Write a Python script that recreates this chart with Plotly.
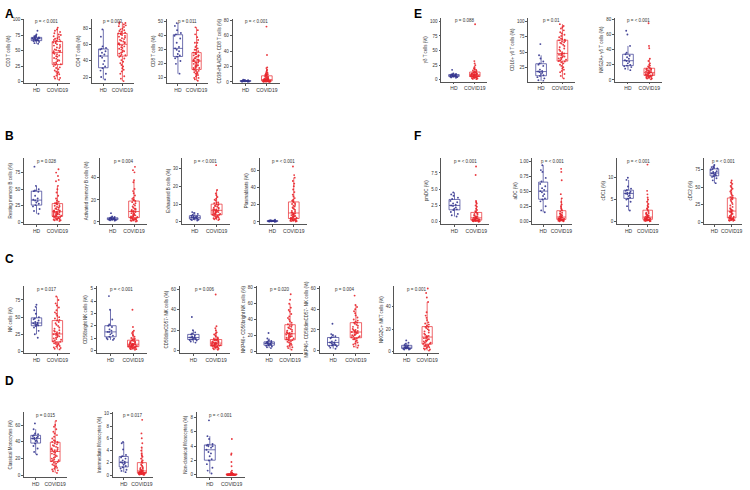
import plotly.graph_objects as go

groups = ["HD", "COVID19"]

# ---------------- data ----------------
a1_hd = [82, 76, 74, 73, 72, 71, 71, 70, 70, 69, 69, 68, 68, 67, 67, 66, 66, 65, 64, 62, 61]
a1_cov = [87, 84, 82, 80, 78, 76, 75, 73, 72, 70, 69, 68, 67, 66, 65, 64, 63, 62, 60, 59, 58, 56, 55, 54, 52, 51, 50, 50, 49, 48, 46, 45, 44, 42, 41, 40, 38, 37, 35, 34, 33, 31, 30, 29, 28, 27, 25, 23, 22, 20, 18, 16, 15, 13, 12, 10, 8, 6, 5, 3]
a2_hd = [79, 70, 58, 56, 55, 54, 52, 50, 48, 46, 44, 40, 36, 33, 31, 28, 24, 20, 17]
a2_cov = [88, 87, 86, 85, 84, 83, 82, 80, 79, 78, 77, 76, 75, 74, 74, 73, 72, 71, 70, 69, 68, 67, 66, 65, 64, 63, 62, 62, 61, 60, 59, 58, 57, 56, 55, 54, 53, 52, 51, 50, 49, 48, 47, 46, 45, 43, 41, 39, 37, 35, 33, 31, 29, 27, 24, 21, 18, 15]
a3_hd = [49, 47, 44, 42, 41, 40, 38, 35, 32, 31, 30, 29, 27, 26, 25, 24, 22, 20, 13]
a3_cov = [46, 44, 41, 39, 37, 35, 35, 33, 32, 31, 30, 30, 29, 28, 28, 27, 27, 26, 26, 26, 25, 25, 24, 24, 23, 23, 23, 22, 22, 22, 21, 21, 21, 20, 20, 19, 19, 19, 18, 18, 17, 17, 17, 16, 16, 15, 15, 14, 14, 13, 13, 12, 12, 11, 10, 10, 9, 8]
a4_hd = [3.0, 2.5, 2.2, 2.0, 1.8, 1.6, 1.5, 1.4, 1.3, 1.2, 1.1, 1.0, 0.9, 0.8, 0.7, 0.6, 0.5, 0.4]
a4_cov = [72, 35, 19, 18, 16, 15, 13, 12, 11, 10, 10, 9, 9, 8, 8, 7, 7, 6, 6, 5, 5, 5, 4, 4, 4, 3.5, 3.5, 3, 3, 3, 3, 2.5, 2.5, 2.5, 2, 2, 2, 2, 1.8, 1.6, 1.5, 1.4, 1.3, 1.2, 1.1, 1, 1, 0.9, 0.8, 0.7, 0.6, 0.5, 0.5, 0.4, 0.3, 0.2]

b1_hd = [84, 55, 50, 48, 47, 46, 40, 36, 34, 33, 32, 30, 28, 26, 24, 20, 17, 13]
b1_cov = [80, 75, 70, 64, 62, 55, 50, 45, 40, 36, 33, 31, 30, 29, 28, 27, 26, 25, 24, 23, 22, 21, 20, 19, 18, 18, 17, 17, 16, 16, 15, 15, 14, 14, 13, 13, 12, 12, 11, 11, 10, 10, 9, 9, 8, 8, 7, 7, 6, 6, 5, 5, 4, 4, 3, 3, 2]
b2_hd = [8, 5, 4.5, 4, 3.8, 3.5, 3.3, 3.1, 3, 2.8, 2.6, 2.5, 2.3, 2.1, 2, 1.8, 1.5, 1.2]
b2_cov = [50, 47, 45, 38, 36, 30, 28, 26, 24, 22, 21, 20, 20, 19, 18, 17, 16, 15, 14, 13, 12, 12, 11, 11, 10, 10, 10, 9, 9, 8, 8, 7, 7, 6, 6, 5.5, 5, 5, 4.5, 4, 4, 3.5, 3, 3, 3, 2.5, 2.5, 2, 2, 1.5, 1.5, 1, 1, 0.5]
b3_hd = [5.5, 5, 4.5, 4, 3.5, 3.2, 3, 2.8, 2.6, 2.4, 2.2, 2, 1.8, 1.6, 1.4, 1.2, 1, 0.8]
b3_cov = [32, 18, 16, 15, 14, 13, 12.5, 12, 11, 11, 10.5, 10, 10, 9.5, 9, 9, 8.5, 8, 8, 7.5, 7, 7, 7, 6.5, 6.5, 6.5, 6, 6, 6, 5.5, 5.5, 5, 5, 5, 4.5, 4.5, 4, 4, 4, 3.5, 3.5, 3, 3, 2.5, 2.5, 2, 2, 1.5, 1.5, 1]
b4_hd = [2.5, 2, 1.8, 1.6, 1.4, 1.3, 1.2, 1.1, 1, 0.9, 0.8, 0.7, 0.6, 0.5, 0.4, 0.3]
b4_cov = [65, 55, 52, 48, 45, 42, 38, 35, 32, 30, 28, 26, 25, 24, 23, 22, 21, 20, 19, 18, 17, 16, 15, 14, 13, 12, 11, 11, 10, 10, 9, 9, 8, 8, 7, 7, 6, 6, 5, 5, 5, 4, 4, 4, 3, 3, 3, 2.5, 2.5, 2, 2, 1.5, 1.5, 1, 1, 0.5]

c1_hd = [68, 65, 60, 55, 50, 48, 47, 45, 43, 42, 41, 40, 40, 39, 38, 37, 35, 30, 25, 20]
c1_cov = [80, 75, 70, 67, 64, 60, 57, 55, 52, 50, 48, 46, 45, 43, 41, 39, 37, 35, 33, 31, 30, 29, 28, 27, 26, 25, 25, 24, 23, 22, 21, 20, 19, 18, 17, 16, 15, 14, 13, 12, 12, 11, 10, 9, 8, 7, 6, 5, 4, 3]
c2_hd = [4.4, 3.3, 2.5, 2.1, 2.0, 1.9, 1.7, 1.6, 1.5, 1.5, 1.4, 1.3, 1.2, 1.1, 1.0, 0.95, 0.9, 0.85]
c2_cov = [3.3, 1.9, 1.6, 1.5, 1.4, 1.3, 1.2, 1.1, 1.0, 0.95, 0.9, 0.85, 0.8, 0.8, 0.75, 0.7, 0.7, 0.65, 0.6, 0.6, 0.55, 0.55, 0.5, 0.5, 0.5, 0.45, 0.45, 0.45, 0.4, 0.4, 0.4, 0.35, 0.35, 0.35, 0.3, 0.3, 0.3, 0.25, 0.25, 0.25, 0.2, 0.2, 0.2, 0.15, 0.15, 0.1, 0.1, 0.05]
c3_hd = [33, 20, 18, 17, 16, 15, 14, 13.5, 13, 13, 12.5, 12, 11.5, 11, 10.5, 10, 9, 8]
c3_cov = [55, 24, 22, 20, 18, 17, 16, 15, 14, 13, 12, 12, 11, 11, 10.5, 10, 10, 9.5, 9, 9, 8.5, 8, 8, 8, 7.5, 7.5, 7, 7, 7, 6.5, 6.5, 6, 6, 6, 5.5, 5.5, 5, 5, 5, 4.5, 4.5, 4, 4, 3.5, 3, 3, 2.5, 2, 1.5, 1]
c4_hd = [23, 16, 14, 13, 12, 11.5, 11, 10.5, 10, 10, 9.5, 9, 8.5, 8, 7.5, 7, 6, 5, 4]
c4_cov = [72, 65, 60, 55, 52, 50, 47, 44, 42, 40, 38, 36, 34, 33, 32, 31, 30, 29, 28, 27, 26, 25, 24, 23, 23, 22, 22, 21, 21, 20, 19, 19, 18, 18, 17, 16, 16, 15, 15, 14, 14, 13, 12, 11, 10, 9, 8, 7, 6, 5, 4, 2]
c5_hd = [26, 16, 15, 14, 13, 12, 10, 9, 8, 8, 7, 6.5, 6, 5.5, 5, 4.5, 4, 3, 2]
c5_cov = [53, 44, 42, 40, 38, 36, 34, 32, 30, 29, 28, 27, 27, 26, 25, 24, 23, 22, 21, 20, 20, 19, 19, 18, 18, 18, 17, 17, 16, 16, 15, 15, 14, 14, 13, 13, 12, 12, 11, 11, 10, 9, 8, 7, 6, 5, 4, 3]
c6_hd = [10, 8, 7, 6, 5.5, 5, 4.5, 4, 4, 3.5, 3.5, 3, 3, 2.5, 2.5, 2, 2]
c6_cov = [56, 52, 48, 44, 35, 32, 30, 28, 26, 25, 24, 23, 22, 22, 21, 20, 19, 18, 17, 16, 15, 14, 14, 13, 13, 12, 12, 11, 11, 10, 10, 9, 9, 8, 8, 7, 7, 6, 6, 5, 5, 5, 4, 4, 3, 3, 2, 2, 1]

d1_hd = [62, 55, 50, 49, 48, 47, 46, 45, 45, 44, 43, 42, 41, 40, 38, 35, 32, 28, 25]
d1_cov = [65, 60, 58, 55, 52, 50, 48, 46, 44, 42, 41, 40, 40, 39, 38, 37, 36, 35, 34, 33, 32, 31, 31, 30, 30, 29, 28, 27, 26, 25, 24, 23, 22, 21, 20, 19, 18, 18, 17, 16, 15, 14, 13, 12, 11, 10, 9, 8, 7, 6, 5, 3]
d2_hd = [5.4, 5.2, 4.2, 3.3, 3.1, 2.9, 2.7, 2.4, 2.2, 2.1, 2.0, 1.9, 1.7, 1.5, 1.3, 1.1, 0.9, 0.7, 0.5]
d2_cov = [9, 6.8, 6, 5.2, 4.5, 4, 3.5, 3.2, 3, 2.7, 2.4, 2.2, 2, 1.8, 1.6, 1.5, 1.3, 1.2, 1.1, 1, 0.9, 0.8, 0.8, 0.7, 0.7, 0.6, 0.6, 0.6, 0.5, 0.5, 0.5, 0.45, 0.4, 0.4, 0.4, 0.35, 0.35, 0.3, 0.3, 0.3, 0.25, 0.25, 0.2, 0.2, 0.2, 0.15, 0.1, 0.1, 0.05]
d3_hd = [7.6, 5.4, 5, 4.3, 4.2, 4.1, 4.0, 4.0, 3.8, 3.5, 3.2, 3.0, 2.6, 2.2, 2.0, 1.5, 1.0, 0.6, 0.2]
d3_cov = [5.0, 3.0, 2.8, 1.8, 1.2, 0.6, 0.4, 0.3, 0.25, 0.2, 0.2, 0.15, 0.15, 0.12, 0.1, 0.1, 0.1, 0.08, 0.08, 0.07, 0.06, 0.06, 0.05, 0.05, 0.05, 0.04, 0.04, 0.04, 0.03, 0.03, 0.03, 0.02, 0.02, 0.02, 0.02, 0.01, 0.01, 0.01, 0.01, 0.01, 0.01, 0, 0, 0, 0, 0]

e1_hd = [17, 11, 10, 9.5, 9, 8.5, 8, 7.5, 7, 7, 6.5, 6, 6, 5.5, 5, 4.5, 4, 3.5]
e1_cov = [95, 32, 28, 25, 22, 20, 19, 18, 17, 16, 15, 14, 13, 13, 12, 12, 11, 11, 10.5, 10, 10, 9.5, 9, 9, 8.5, 8.5, 8, 8, 7.5, 7.5, 7, 7, 6.5, 6.5, 6, 6, 5.5, 5.5, 5, 5, 4.5, 4, 4, 3.5, 3, 2.5, 2, 1.5, 1]
e2_hd = [63, 45, 40, 35, 32, 30, 28, 22, 20, 19, 18, 17, 15, 13, 12, 10, 8, 5, 4]
e2_cov = [95, 92, 90, 88, 85, 82, 80, 78, 76, 74, 72, 71, 70, 69, 68, 67, 66, 65, 64, 62, 60, 58, 56, 54, 52, 50, 48, 47, 47, 46, 45, 44, 43, 42, 41, 40, 39, 38, 37, 36, 35, 34, 32, 30, 28, 26, 24, 22, 20, 18, 15, 12, 8]
e3_hd = [65, 60, 45, 36, 34, 32, 30, 28, 26, 25, 24, 22, 20, 19, 18, 17, 15, 13]
e3_cov = [75, 45, 42, 28, 25, 22, 20, 19, 18, 17, 16, 15, 15, 14, 14, 13, 13, 12, 12, 11, 11, 10, 10, 10, 9, 9, 8, 8, 8, 7, 7, 6, 6, 6, 5, 5, 5, 4, 4, 3, 3, 2, 2, 1]

f1_hd = [4.5, 4.2, 4.0, 3.7, 3.5, 3.2, 3.0, 2.8, 2.6, 2.5, 2.4, 2.2, 2.0, 1.9, 1.8, 1.5, 1.2, 1.0, 0.8]
f1_cov = [8.5, 7.2, 3.2, 3.0, 2.8, 2.5, 2.3, 2.0, 1.8, 1.6, 1.5, 1.4, 1.3, 1.2, 1.1, 1.0, 0.9, 0.8, 0.8, 0.7, 0.7, 0.6, 0.6, 0.5, 0.5, 0.5, 0.45, 0.4, 0.4, 0.35, 0.3, 0.3, 0.3, 0.25, 0.2, 0.2, 0.2, 0.15, 0.15, 0.1, 0.1, 0.1, 0.05, 0.05, 0.0]
f2_hd = [0.93, 0.85, 0.82, 0.72, 0.66, 0.62, 0.58, 0.55, 0.52, 0.5, 0.48, 0.45, 0.42, 0.38, 0.36, 0.33, 0.25, 0.18, 0.15]
f2_cov = [0.87, 0.82, 0.68, 0.45, 0.38, 0.32, 0.28, 0.25, 0.22, 0.2, 0.18, 0.16, 0.14, 0.13, 0.12, 0.11, 0.1, 0.09, 0.08, 0.08, 0.07, 0.07, 0.06, 0.06, 0.05, 0.05, 0.05, 0.04, 0.04, 0.04, 0.03, 0.03, 0.03, 0.02, 0.02, 0.02, 0.02, 0.01, 0.01, 0.01, 0.01, 0.0, 0.0]
f3_hd = [10, 9.5, 8, 7.5, 7.2, 7, 6.8, 6.6, 6.5, 6.4, 6.2, 6, 5.8, 5.5, 5.2, 5, 4.5, 3.5, 2.5]
f3_cov = [13, 7, 6.2, 5.5, 5, 4.5, 4, 3.6, 3.3, 3, 2.8, 2.5, 2.2, 2, 1.9, 1.8, 1.6, 1.5, 1.4, 1.3, 1.2, 1.1, 1, 1, 0.9, 0.9, 0.8, 0.8, 0.7, 0.7, 0.6, 0.6, 0.5, 0.5, 0.4, 0.4, 0.3, 0.3, 0.3, 0.2, 0.2, 0.2, 0.1, 0.1, 0.05]
f4_hd = [82, 80, 79, 78, 77, 76, 75, 73, 72, 71, 70, 70, 69, 68, 67, 66, 65, 63, 60, 56]
f4_cov = [60, 57, 55, 52, 50, 48, 46, 44, 42, 40, 38, 36, 35, 34, 33, 32, 30, 28, 26, 24, 22, 20, 19, 18, 17, 16, 15, 15, 14, 13, 12, 11, 10, 9, 8, 8, 7, 7, 6, 6, 5, 5, 5, 4, 4, 4, 3, 3, 3, 2, 2]

y_titles = ["CD3 T cells (%)", "CD4 T cells (%)", "CD8 T cells (%)", "CD38+HLADR+ CD8 T cells (%)",
            "Resting memory B cells (%)", "Activated memory B cells (%)", "Exhausted B cells (%)", "Plasmablasts (%)",
            "NK cells (%)", "CD56bright NK cells (%)", "CD56dimCD57- NK cells (%)", "NKP46+ CD56bright NK cells (%)",
            "NKP46+ CD56dimCD57- NK cells (%)", "NKG2C+ NKT cells (%)",
            "Classical Monocytes (%)", "Intermediate Monocytes (%)", "Non-classical Monocytes (%)",
            "γδ T cells (%)", "CD16+ γδ T cells (%)", "NKG2A+ γδ T cells (%)",
            "pmDC (%)", "aDC (%)", "cDC1 (%)", "cDC2 (%)"]
p_texts = ["p = < 0.001", "p = 0.003", "p = 0.011", "p = < 0.001",
           "p = 0.028", "p = 0.004", "p = < 0.001", "p = < 0.001",
           "p = 0.017", "p = < 0.001", "p = 0.006", "p = 0.020", "p = 0.004", "p = 0.001",
           "p = 0.015", "p = 0.017", "p = < 0.001",
           "p = 0.088", "p = 0.01", "p = < 0.001",
           "p = < 0.001", "p = < 0.001", "p = < 0.001", "p = < 0.001"]
tick_vals = [[0, 25, 50, 75, 100], [20, 40, 60, 80], [10, 20, 30, 40, 50], [0, 20, 40, 60, 80],
             [0, 25, 50, 75], [0, 20, 40], [0, 10, 20, 30], [0, 20, 40, 60],
             [0, 25, 50, 75], [0, 1, 2, 3, 4, 5], [0, 20, 40, 60], [0, 20, 40, 60, 80], [0, 20, 40, 60], [0, 20, 40],
             [0, 20, 40, 60], [0, 2, 4, 6, 8, 10], [0, 2, 4, 6, 8],
             [0, 25, 50, 75, 100], [25, 50, 75, 100], [0, 20, 40, 60, 80],
             [0, 2.5, 5, 7.5], [0, 0.25, 0.5, 0.75, 1.0], [0, 5, 10], [0, 25, 50, 75]]
tick_texts = {20: ["0.0", "2.5", "5.0", "7.5"], 21: ["0.00", "0.25", "0.50", "0.75", "1.00"]}

hd_data = [a1_hd, a2_hd, a3_hd, a4_hd, b1_hd, b2_hd, b3_hd, b4_hd,
           c1_hd, c2_hd, c3_hd, c4_hd, c5_hd, c6_hd, d1_hd, d2_hd, d3_hd,
           e1_hd, e2_hd, e3_hd, f1_hd, f2_hd, f3_hd, f4_hd]
cov_data = [a1_cov, a2_cov, a3_cov, a4_cov, b1_cov, b2_cov, b3_cov, b4_cov,
            c1_cov, c2_cov, c3_cov, c4_cov, c5_cov, c6_cov, d1_cov, d2_cov, d3_cov,
            e1_cov, e2_cov, e3_cov, f1_cov, f2_cov, f3_cov, f4_cov]

# ---------------- layout (pixel boxes: x0, x1, ytop, ybottom) and y ranges ----------------
W, H = 750, 490
boxes = [(24, 70, 17, 82), (92, 134, 17, 82), (167, 208, 17, 82), (233, 280, 17, 82),
         (24, 70, 157, 223), (100, 147, 157, 223), (182, 230, 157, 223), (260, 307, 157, 223),
         (24, 70, 286, 353), (97, 147, 286, 353), (180, 230, 286, 353), (257, 303, 286, 353),
         (320, 370, 286, 353), (395, 440, 286, 353),
         (24, 67, 413, 478), (113, 153, 413, 478), (197, 245, 413, 478),
         (442, 488, 16, 80), (529, 576, 16, 80), (616, 663, 16, 80),
         (442, 490, 157, 223), (533, 573, 157, 223), (618, 660, 157, 223), (705, 743, 157, 223)]
y_ranges = [(-3, 101), (12, 92), (6, 52), (-2, 82),
            (-2, 97), (-1.5, 58), (-1, 36), (-2, 75),
            (-2, 95), (-0.2, 5.2), (-2, 63), (-2, 82), (-2, 62), (-1, 58),
            (-2, 75), (-0.3, 10.2), (-0.3, 8.7),
            (-3, 106), (3, 105), (-2, 82),
            (-0.3, 9.8), (-0.04, 1.05), (-0.5, 14.5), (-2, 92)]
letters = [("A", 3, 3), ("B", 3, 126), ("C", 3, 250), ("D", 3, 372), ("E", 413, 3), ("F", 413, 126)]

HD_COLOR = "#34358F"
COV_COLOR = "#E8262C"
AX_COLOR = "#555555"
FONT = "Arial, Liberation Sans, sans-serif"

fig = go.Figure()
layout = dict(width=W, height=H, margin=dict(l=0, r=0, t=0, b=0),
              paper_bgcolor="white", plot_bgcolor="white", showlegend=False,
              boxmode="overlay", font=dict(family=FONT, size=5, color="#333333"))
annotations = []

for i, (x0, x1, yt, yb) in enumerate(boxes):
    n = i + 1
    xa = "x" if n == 1 else f"x{n}"
    ya = "y" if n == 1 else f"y{n}"
    for vals, name, col in ((hd_data[i], "HD", HD_COLOR), (cov_data[i], "COVID19", COV_COLOR)):
        fig.add_trace(go.Box(
            y=vals, x=[name] * len(vals), name=name, xaxis=xa, yaxis=ya,
            boxpoints="all", jitter=0.85, pointpos=0, whiskerwidth=0,
            fillcolor="rgba(0,0,0,0)", line=dict(color=col, width=0.7),
            marker=dict(color=col, size=1.9, opacity=0.9), width=0.5, hoverinfo="y"))
    xkey = "xaxis" if n == 1 else f"xaxis{n}"
    ykey = "yaxis" if n == 1 else f"yaxis{n}"
    layout[xkey] = dict(domain=[x0 / W, x1 / W], anchor=ya, type="category",
                        categoryorder="array", categoryarray=groups, range=[-0.6, 1.6],
                        showline=True, linecolor=AX_COLOR, linewidth=0.8, ticks="outside",
                        ticklen=2, tickcolor=AX_COLOR, tickwidth=0.6,
                        tickfont=dict(size=5, family=FONT, color="#333"), showgrid=False, zeroline=False)
    yd = dict(domain=[1 - yb / H, 1 - yt / H], anchor=xa, range=list(y_ranges[i]),
              tickvals=tick_vals[i], showline=True, linecolor=AX_COLOR, linewidth=0.8,
              ticks="outside", ticklen=2, tickcolor=AX_COLOR, tickwidth=0.6,
              tickfont=dict(size=4.5, family=FONT, color="#333"), showgrid=False, zeroline=False,
              title=dict(text=y_titles[i], font=dict(size=4.5, family=FONT, color="#333"), standoff=2))
    if i in tick_texts:
        yd["ticktext"] = tick_texts[i]
    layout[ykey] = yd
    annotations.append(dict(text=p_texts[i], x=(x0 + x1) / 2 / W, y=1 - (yt + 3) / H,
                            xref="paper", yref="paper", showarrow=False,
                            font=dict(size=4.5, family=FONT, color="#333"),
                            xanchor="center", yanchor="middle"))

for t, px, py in letters:
    annotations.append(dict(text=f"<b>{t}</b>", x=px / W, y=1 - py / H, xref="paper", yref="paper",
                            showarrow=False, xanchor="left", yanchor="top",
                            font=dict(size=12, family=FONT, color="black")))

layout["annotations"] = annotations
fig.update_layout(**layout)
fig.write_html("out.html", config={"displayModeBar": False},
               post_script="document.body.style.margin='0';")
